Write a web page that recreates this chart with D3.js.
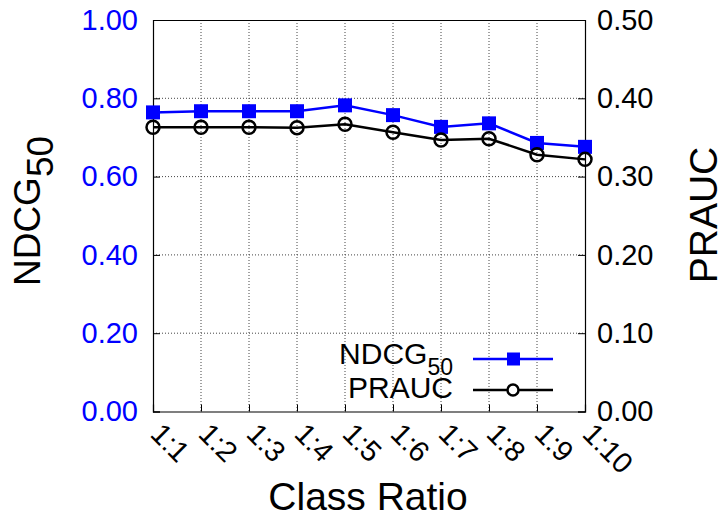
<!DOCTYPE html>
<html><head><meta charset="utf-8">
<script src="https://cdn.jsdelivr.net/npm/d3@7"></script>
<style>body{margin:0;background:#fff}svg{display:block}text{font-family:"Liberation Sans",Arial,sans-serif}</style>
</head><body><svg id="c" width="720" height="515"></svg>
<script>
const categories = ["1:1","1:2","1:3","1:4","1:5","1:6","1:7","1:8","1:9","1:10"];
const ndcg = [0.764,0.767,0.767,0.767,0.782,0.757,0.727,0.736,0.686,0.676];
const prauc = [0.363,0.363,0.363,0.3625,0.3668,0.3566,0.3467,0.3484,0.328,0.322];
const leftTicks = [0,0.2,0.4,0.6,0.8,1.0];
const rightTicks = [0,0.1,0.2,0.3,0.4,0.5];

const svg = d3.select("#c");
const L=153, R=585, T=20, B=411.5;
const x = d3.scalePoint().domain(categories).range([L,R]);
const yL = d3.scaleLinear().domain([0,1]).range([B,T]);
const yR = d3.scaleLinear().domain([0,0.5]).range([B,T]);

// grid
const g = svg.append("g");
g.selectAll("line.vg").data(categories.slice(1,-1)).enter().append("line")
 .attr("x1",d=>x(d)).attr("x2",d=>x(d)).attr("y1",T).attr("y2",B)
 .attr("stroke","#444").attr("stroke-width",1).attr("stroke-dasharray","1,2");
g.selectAll("line.hg").data(leftTicks.slice(1,-1)).enter().append("line")
 .attr("x1",L).attr("x2",R).attr("y1",d=>yL(d)).attr("y2",d=>yL(d))
 .attr("stroke","#444").attr("stroke-width",1).attr("stroke-dasharray","1,2");

// axes
const axL = svg.append("g").attr("transform",`translate(${L},0)`).call(d3.axisLeft(yL).tickValues(leftTicks).tickFormat(d3.format(".2f")).tickSize(-7).tickPadding(15));
axL.selectAll("text").attr("fill","#0000ff").style("font-size","29px");
const axR = svg.append("g").attr("transform",`translate(${R},0)`).call(d3.axisRight(yR).tickValues(rightTicks).tickFormat(d3.format(".2f")).tickSize(-7).tickPadding(12));
axR.selectAll("text").attr("fill","#000").style("font-size","29px");
const axB = svg.append("g").attr("transform",`translate(0,${B})`).call(d3.axisBottom(x).tickSize(-7).tickFormat(""));
const axTop = svg.append("g").attr("transform",`translate(0,${T})`).call(d3.axisTop(x).tickSize(0).tickFormat(""));
[axL,axR,axB,axTop].forEach(a=>{a.select(".domain").attr("stroke","#000").attr("stroke-width",1.2);a.selectAll("line").attr("stroke","#000");});

// x labels rotated
svg.append("g").selectAll("text").data(categories).enter().append("text")
 .attr("transform",d=>`translate(${x(d)-4},${B+24}) rotate(45)`)
 .attr("text-anchor","start").style("font-size","29px").text(d=>d);

// lines
const lineL = d3.line().x((d,i)=>x(categories[i])).y(d=>yL(d));
const lineR = d3.line().x((d,i)=>x(categories[i])).y(d=>yR(d));
svg.append("path").attr("d",lineL(ndcg)).attr("fill","none").attr("stroke","#0000ff").attr("stroke-width",2.5);
svg.append("path").attr("d",lineR(prauc)).attr("fill","none").attr("stroke","#000").attr("stroke-width",2.5);
svg.append("g").selectAll("rect").data(ndcg).enter().append("rect")
 .attr("x",(d,i)=>x(categories[i])-7).attr("y",d=>yL(d)-7).attr("width",14).attr("height",14).attr("fill","#0000ff");
svg.append("g").selectAll("circle").data(prauc).enter().append("circle")
 .attr("cx",(d,i)=>x(categories[i])).attr("cy",d=>yR(d)).attr("r",6.5).attr("fill","none").attr("stroke","#000").attr("stroke-width",2.5);

// legend
const lg = svg.append("g");
const t1 = lg.append("text").attr("x",453).attr("y",364).attr("text-anchor","end").style("font-size","30px");
t1.append("tspan").text("NDCG");
t1.append("tspan").attr("dy",11).style("font-size","23px").text("50");
lg.append("line").attr("x1",473).attr("x2",553).attr("y1",359).attr("y2",359).attr("stroke","#0000ff").attr("stroke-width",2.5);
lg.append("rect").attr("x",507).attr("y",352.5).attr("width",13).attr("height",13).attr("fill","#0000ff");
lg.append("text").attr("x",453).attr("y",398).attr("text-anchor","end").style("font-size","30px").text("PRAUC");
lg.append("line").attr("x1",473).attr("x2",553).attr("y1",390).attr("y2",390).attr("stroke","#000").attr("stroke-width",2.5);
lg.append("circle").attr("cx",513).attr("cy",390).attr("r",5.5).attr("fill","#fff").attr("stroke","#000").attr("stroke-width",2.5);

// titles
const yt = svg.append("text").attr("transform","translate(40,211) rotate(-90)").attr("text-anchor","middle").style("font-size","37px");
yt.append("tspan").text("NDCG");
yt.append("tspan").attr("dy",13).style("font-size","37px").text("50");
svg.append("text").attr("transform","translate(717,215) rotate(-90)").attr("text-anchor","middle").style("font-size","39px").text("PRAUC");
svg.append("text").attr("x",368).attr("y",510).attr("text-anchor","middle").style("font-size","39px").text("Class Ratio");
</script></body></html>
